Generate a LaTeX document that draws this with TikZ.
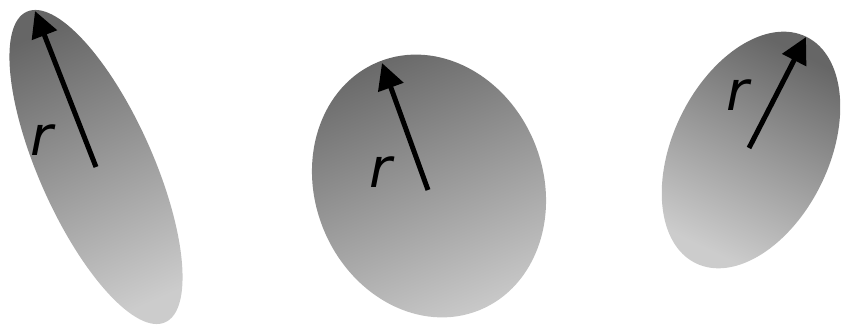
\documentclass[tikz,border=0pt]{standalone}
\usepackage{fontspec}
\newfontfamily\labelfont{DejaVu Sans}
\usetikzlibrary{arrows.meta}
\definecolor{shadedark}{gray}{0.40}
\definecolor{shadelight}{gray}{0.80}

\begin{document}
\begin{tikzpicture}[x=1pt,y=1pt,
	every node/.style={font=\labelfont\itshape\fontsize{55}{55}\selectfont, inner sep=0pt},
	disc/.style={top color=shadedark, bottom color=shadelight, shading angle=#1},
	radius/.style={line width=5pt, -{Triangle[length=26pt,width=26pt]}}]
	\useasboundingbox (0,0) rectangle (843,326);
	% the three tilted discs, shaded along the long axis
	\foreach \cx/\cy/\ra/\rb/\ang/\sh in {96/159/170/57/114/24, 429/140/134/114/112/22, 751/176/126/78/64/-26}
		{\shade[disc=\sh] (\cx,\cy) ellipse [x radius=\ra, y radius=\rb, rotate=\ang];}
	\coordinate (c1) at (96,159);
	\coordinate (t1) at (35,315);
	\coordinate (c2) at (428,136);
	\coordinate (t2) at (382,263);
	\coordinate (c3) at (749,178);
	\coordinate (t3) at (806,289);
	\foreach \u/\v in {c1/t1, c2/t2, c3/t3} {\draw[radius] (\u) -- (\v);}
	\node (r1) at (42,186) {r};
	\node (r2) at (381,154) {r};
	\node (r3) at (738,231) {r};
\end{tikzpicture}
\end{document}
